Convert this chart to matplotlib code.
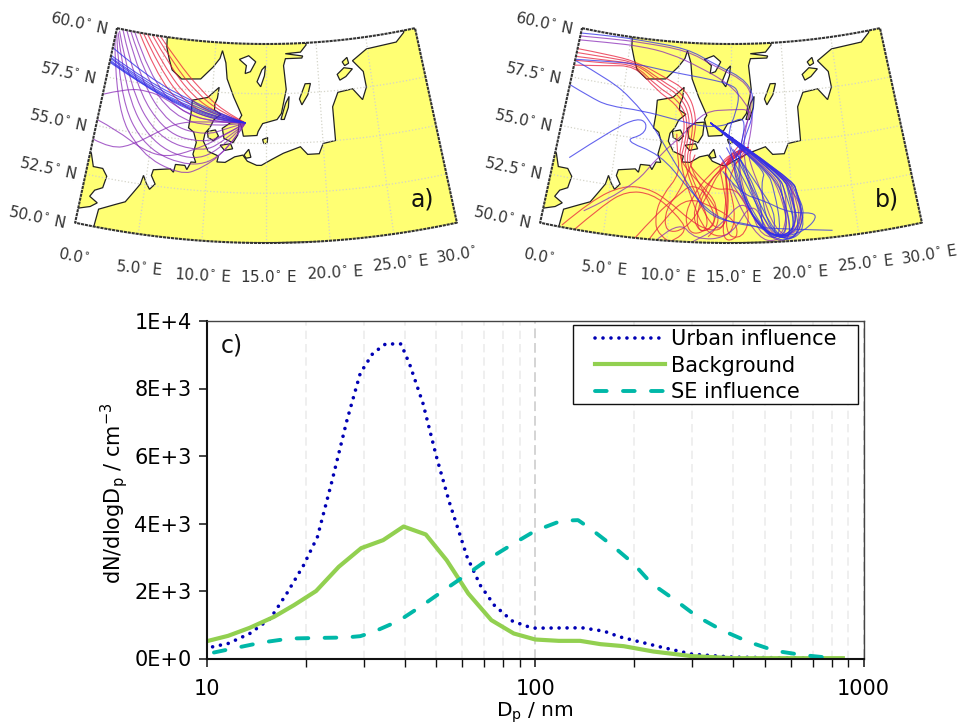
import numpy as np
import matplotlib
matplotlib.use("Agg")
import matplotlib.pyplot as plt
from matplotlib.path import Path
from matplotlib.patches import PathPatch, Polygon, Rectangle
from matplotlib.ticker import FixedLocator, NullFormatter, FuncFormatter

plt.rcParams['font.family'] = ['DejaVu Sans']
plt.rcParams['mathtext.default'] = 'regular'

# ---------- size distributions ----------
urban_d = [10.4, 11.6, 13.5, 15.6, 17.5, 19.7, 21.7, 24, 26.7, 29.3, 32, 35, 39, 41.5, 45.5, 50, 54.7, 62, 68, 75, 85, 94, 100, 120, 139, 162, 181, 240, 300, 400, 700]
urban_v = [346, 445, 740, 1186, 1927, 2767, 3606, 5236, 7064, 8450, 9040, 9320, 9320, 8700, 7557, 5980, 4640, 3010, 2170, 1580, 1115, 958, 900, 905, 909, 810, 640, 345, 130, 40, 10]
back_d = [10, 11.6, 13.5, 16, 18.4, 21.5, 25.2, 29.5, 34.4, 39.7, 46.4, 53.7, 62.5, 73.5, 86, 100, 118, 137, 158, 186, 229, 300, 400, 865]
back_v = [514, 672, 910, 1235, 1580, 2000, 2717, 3270, 3507, 3910, 3675, 2914, 1926, 1136, 741, 563, 523, 523, 425, 365, 207, 70, 10, 10]
se_d = [10.5, 12, 14.7, 17.9, 22.6, 26.4, 29.3, 32, 38.4, 45.4, 53.1, 62.5, 73, 86, 100, 120, 135, 147, 171, 199, 226, 267, 310, 370, 446, 538, 657, 790]
se_v = [178, 296, 474, 593, 612, 622, 662, 780, 1116, 1580, 2045, 2519, 2983, 3408, 3784, 4080, 4100, 3853, 3359, 2816, 2223, 1729, 1255, 840, 494, 227, 99, 20]
series_names = ['Urban influence', 'Background', 'SE influence']
y_ticks = [0, 2000, 4000, 6000, 8000, 10000]
y_tick_labels = ['0E+0', '2E+3', '4E+3', '6E+3', '8E+3', '1E+4']
x_ticks = [10, 100, 1000]

# ---------- map data (lon, lat) ----------
STATION = (13.15, 56.02)
coast_continent = [(1.4, 49), (1.5, 50.1), (1.6, 50.9), (2.9, 51.3), (3.6, 51.5), (4.1, 52.0), (4.6, 52.5), (4.75, 52.95), (5.05, 52.6), (5.4, 52.3), (5.8, 52.6), (5.4, 53.0), (5.5, 53.3), (6.9, 53.45), (7.2, 53.3), (7.3, 53.7), (8.1, 53.7), (8.3, 53.5), (8.6, 53.9), (9.0, 53.9), (8.7, 54.3), (8.9, 54.9), (8.6, 55.4), (8.1, 55.6), (8.2, 56.3), (8.2, 57.0), (9.6, 57.2), (10.6, 57.75), (10.5, 57.2), (10.3, 56.9), (10.3, 56.6), (10.9, 56.4), (10.3, 56.1), (10.0, 55.7), (9.6, 55.4), (9.5, 55.0), (10.0, 54.5), (10.9, 54.3), (10.8, 54.0), (11.5, 54.0), (12.3, 54.3), (13.0, 54.4), (13.4, 54.1), (14.2, 53.9), (14.6, 53.9), (15.5, 54.2), (16.5, 54.5), (18.0, 54.8), (18.6, 54.4), (19.6, 54.4), (20, 54.9), (21.1, 55.0), (21.1, 56.7), (21.7, 57.4), (23.1, 57.5), (23.9, 56.9), (24.4, 57.5), (24.3, 58.3), (23.4, 58.9), (24.9, 59.4), (27.9, 59.5), (28.8, 59.9), (29, 60.5), (31, 60.5), (31, 49)]
coast_britain = [(-1, 53.8), (0.1, 53.6), (0.5, 52.95), (1.3, 52.95), (1.75, 52.6), (1.6, 52.0), (1.0, 51.8), (0.7, 51.45), (1.4, 51.2), (0.9, 50.95), (0, 50.75), (-1, 50.6)]
coast_scandinavia = [(5.0, 60.5), (5.1, 60), (5.2, 59.5), (5.6, 58.9), (6.0, 58.4), (7.0, 58.0), (8.8, 58.1), (9.9, 58.75), (10.5, 59.2), (10.7, 59.6), (11.1, 59.0), (11.3, 58.2), (12.0, 57.3), (12.8, 56.4), (12.6, 56.2), (12.9, 55.6), (13.0, 55.35), (14.2, 55.4), (14.3, 55.6), (14.7, 56.0), (16.0, 56.2), (16.4, 56.5), (16.9, 57.7), (16.7, 58.9), (16.9, 59.25), (18.5, 59.25), (18.6, 59.35), (16.9, 59.5), (18.4, 59.55), (19.0, 59.9), (18.6, 60.5)]
islands = [
    [(11.1, 55.7), (11.8, 56.0), (12.6, 56.05), (12.5, 55.4), (12.1, 55.0), (11.3, 55.2)],
    [(9.8, 55.5), (10.5, 55.6), (10.8, 55.3), (10.4, 55.05), (9.9, 55.2)],
    [(11.0, 54.85), (11.9, 54.95), (12.1, 54.7), (11.4, 54.6)],
    [(13.1, 54.4), (13.5, 54.7), (13.7, 54.3), (13.3, 54.25)],
    [(14.7, 55.2), (15.15, 55.3), (15.1, 55.0), (14.8, 55.0)],
    [(16.35, 56.2), (16.8, 57.0), (17.15, 57.35), (17.05, 56.8), (16.65, 56.2)],
    [(18.1, 57.2), (18.7, 57.95), (19.2, 57.95), (18.9, 57.4), (18.3, 56.9)],
    [(21.8, 58.3), (22.5, 58.6), (23.3, 58.5), (22.6, 58.15), (22.0, 58.0)],
    [(22.4, 58.9), (22.9, 59.1), (23.0, 58.8), (22.6, 58.7)],
]
lakes = [
    [(12.4, 59.2), (13.3, 59.4), (14.0, 59.1), (13.5, 58.6), (13.0, 58.5), (13.1, 58.9)],
    [(14.5, 57.85), (14.15, 58.1), (14.6, 58.7), (14.95, 58.9), (14.85, 58.4)],
]

S = STATION
traj_a_red = [
    [(4.4, 60), (6.5, 58.8), (8.8, 57.6), (11.0, 56.6), S],
    [(4.0, 60), (6.1, 58.7), (8.5, 57.4), (10.9, 56.5), S],
    [(3.6, 60), (5.7, 58.6), (8.2, 57.2), (10.7, 56.4), S],
    [(3.1, 60), (5.2, 58.5), (7.9, 57.0), (10.6, 56.3), S],
    [(2.7, 60), (4.8, 58.4), (7.6, 56.8), (10.5, 56.2), S],
    [(2.3, 60), (4.4, 58.2), (7.3, 56.6), (10.4, 56.1), S],
]
traj_a_purple = [
    [(1.8, 60), (3.9, 58.0), (7.0, 56.4), (10.3, 55.95), S],
    [(1.4, 60), (3.5, 57.9), (6.6, 56.1), (10.2, 55.7), S],
    [(1.0, 60), (3.1, 57.7), (6.4, 55.6), (9.7, 55.3), (11.5, 55.7), S],
    [(0.6, 60), (2.7, 57.4), (6.1, 55.2), (9.5, 54.9), (11.5, 55.4), S],
    [(0.3, 59.9), (2.3, 57.2), (5.5, 54.9), (9.5, 54.4), (11.6, 55.2), S],
    [(0.2, 59.8), (1.9, 57.0), (5.0, 54.6), (9.0, 53.9), (11.7, 55.0), S],
    [(0.1, 59.7), (1.5, 56.7), (4.5, 54.3), (8.7, 53.6), (11.5, 54.4), S],
    [(0.0, 59.5), (1.3, 56.2), (4.2, 54.0), (7.8, 53.2), (9.5, 53.6), (11.6, 54.6), S],
    [(0, 56.6), (2, 57.1), (4, 57.2), (5.9, 56.9), (7.85, 56.3), (10.2, 56.0), S],
    [(0, 55.3), (1.9, 54.97), (4.4, 54.2), (6.5, 54.0), (8.7, 54.5), (10.7, 55.1), S],
    [(0, 54.3), (1.7, 54.0), (3.5, 54.4), (5.4, 55.2), (7.3, 55.85), (10.2, 56.0), S],
]
traj_a_blue = [
    [(0, 59.0), (4, 57.8), (8.4, 56.9), (11.3, 56.35), S],
    [(0, 58.6), (4, 57.6), (8.5, 56.8), (11.3, 56.3), S],
    [(0, 58.5), (4, 57.5), (8.4, 56.7), (11.3, 56.25), S],
    [(0, 58.45), (4, 57.4), (8.3, 56.6), (11.2, 56.2), S],
    [(0, 58.35), (4, 57.35), (8.2, 56.55), (11.2, 56.15), S],
    [(0, 58.3), (4, 57.3), (8.2, 56.5), (11.1, 56.1), S],
    [(0, 58.25), (4, 57.3), (8.1, 56.45), (11.0, 56.05), S],
]

# Corners of the south-eastern bundle, from which lines head for the station
T1, T2, T3, T4, T5, T6 = (20.2, 53.06), (19.8, 53.2), (19.4, 53.35), (19.0, 53.45), (18.5, 53.6), (18.0, 53.7)
E = (16.5, 54.8)
traj_b_red = [
    [(0, 58.95), (3, 58.95), (5.9, 58.8), (8.6, 58.2), (10.9, 57.6), (11.9, 56.3), (11.7, 55), (11.3, 54), (12.8, 52.5), (14, 51), (12.5, 50.4), (11.8, 51.6), (13.5, 53.5), E],
    [(0, 58.75), (3, 58.8), (5.9, 58.75), (8.4, 58), (10.6, 57.4), (11.6, 56.3), (11.5, 55), (11.1, 54), (12.4, 52.4), (13.4, 50.7), (11.7, 50.3), (11.2, 51.7), (13.8, 54), E],
    [(0, 58.55), (3, 58.65), (5.9, 58.7), (8.2, 57.9), (10.3, 57.3), (11.3, 56.3), (11.2, 55), (10.9, 54.1), (12.1, 52.3), (13.8, 50.5), (14.8, 51.2), (14.4, 52.8), (13.8, 54.3), E],
    [(0, 58.35), (3, 58.5), (5.8, 58.65), (8, 57.7), (10.1, 57.1), (11.1, 56.2), (11.0, 55), (10.6, 54), (11.6, 52.4), (13, 50.4), (15, 50.3), (15.4, 51.6), (14.5, 53.5), E],
    [(0, 58.1), (2.8, 58.35), (5.8, 58.6), (8, 57.5), (9.9, 56.9), (10.9, 56.1), (10.7, 55), (10.5, 54.1), (12.5, 52.9), (14, 51.9), (13.5, 50.7), (12.3, 50.5), (12.3, 52), (14.2, 54), E],
    [(10.2, 55.4), (10.3, 54.6), (10.7, 53.4), (9.4, 52.3), (8.9, 51.3), (9.2, 50.2), (10.7, 49.8)],
    [(11.9, 54.4), (10.9, 52.6), (9.7, 51.6), (9.8, 50.4), (11.4, 50.6), (12.8, 52.0), (14.3, 54.0), E],
    [(1.7, 50.1), (3.7, 51.6), (6.1, 52.55), (8.1, 52.55), (9.8, 52.05), (11.7, 51.1), (13.2, 50.6), (14.5, 50.7), (14.9, 52.3), (14.2, 54.2), E],
    [(2.6, 49.9), (4.6, 51.4), (6.4, 52.3), (8.5, 52.3), (10.4, 51.5), (11.8, 50.4), (10, 49.9)],
    [(7.5, 50), (9.0, 51.3), (10.8, 52.4), (11.7, 52.9), (13, 52.5), (14.4, 51.0), (13.2, 50.3)],
    [(8.6, 50), (10.0, 51.4), (11.5, 52.2), (13.2, 51.9), (15.3, 51.2), (15.6, 50.2), (14.2, 50.1), (14.7, 52.5), (14.4, 54.5), E],
    [(11.6, 53.8), (13.2, 52.6), (15.5, 52.8), (16.6, 51.4), (15.9, 50.2), (14.5, 50.4), (14.8, 52.7), (14.3, 54.3), E],
    [(14.2, 53.9), (15.0, 54.4), (15.7, 54.9)],
    [(14.7, 53.9), (15.5, 54.4), (16.2, 54.8)],
    [(15.2, 53.9), (16.0, 54.3), (16.7, 54.7)],
]
traj_b_purple = [
    [(0, 59.6), (3, 59.75), (6, 59.8), (10.7, 59.6), (13.3, 58.9), (16.8, 58), (16.9, 56.6), (16, 55.5), (15.6, 53.6), (16.6, 51.6), (17.4, 50.3), (19, 50.2), (20.3, 50.8), (19.9, 52.3), T3, S],
    [(0, 59.4), (3, 59.55), (6, 59.6), (9, 59.4), (12, 58.8), (14.8, 58.0), (16.4, 57), (16.7, 56.5), (16.1, 55.3), (16.2, 53.6), (17.4, 51.5), (18.5, 50.1), (20.1, 50.4), (20.2, 52.0), T2, S],
    [(3.2, 51.0), (6.7, 52.4), (8.9, 54.3), (11, 55.5), (12.6, 56.6), (15, 56.7), (17, 56.7), (16.8, 55.6), (16.3, 54.5), (17.6, 52.4), (18.4, 50.7), (19.9, 50.0), (20.8, 51.0), (20.5, 52.2), T1, S],
    [(8.9, 49.8), (10.8, 51.1), (12.2, 50.1), (15.0, 50.3), (16.8, 52.2), (17.9, 50.4), (19.2, 50.3), (19.6, 52.2), T4, S],
    [(11.6, 49.9), (12.6, 50.2), (14.2, 50.9), (16.0, 52.2), (17.0, 51.0), (18.6, 49.95), (19.8, 50.2), (19.3, 52.3), T5, S],
    [(14.6, 53.5), (15.5, 52.0), (17.2, 50.2), (18.5, 50.0), (19.6, 50.6), (19.0, 52.6), T6, S],
    [(14.9, 54.3), (16.1, 52.1), (17.4, 50.6), (19.3, 50.1), (20.6, 50.9), (20.2, 52.4), T2, S],
    [(15.1, 53.0), (16.7, 51.3), (18.4, 50.2), (20.4, 50.4), (20.7, 51.8), (19.9, 52.6), T3, S],
]
traj_b_blue = [
    [(0, 59.75), (3, 59.9), (6, 59.9), (10.7, 59.7), (13.3, 59), (16.8, 58.1), (17.2, 56.6), (16.0, 55), (15.5, 53.5), (16.5, 51.5), (18, 50.3), (20, 50.3), (20.8, 51.5), (20.4, 52.4), T1, S],
    [(0, 58.4), (3, 58.6), (5.9, 58.7), (8.8, 58.5), (12, 58.3), (14.9, 58), (15.8, 57.6), (15.5, 56.6), (14.6, 55.4), (15.5, 53.4), (16.8, 51.0), (18.8, 50.1), (20.3, 50.8), (20.0, 52.3), T2, S],
    [(0, 57.1), (2, 56.7), (3.8, 56.4), (6.9, 56.4), (10, 56.1), (12.6, 55.8), (14.6, 55.9), (16.3, 56.4), (16, 55.0), (15, 53.7), (16.5, 51.5), (18.5, 50.1), (20.1, 50.4), (19.8, 52.3), T3, S],
    [(0, 58.35), (3.6, 57.7), (5.9, 56.9), (7.9, 55.8), (9.4, 54.6), (11.3, 53.0), (13.3, 51.2), (17, 50.9), (18.7, 50.2), (20.2, 50.6), (19.5, 52.4), T4, S],
    [(1.25, 53.5), (4.6, 55.3), (6.6, 56), (7.5, 55.8), (7.3, 55.2), (5.6, 54.8), (8.9, 54.3), (11.3, 52.8), (13.6, 51.3), (16.5, 50.8), (19.5, 50.6), (23, 50.35)],
    [(14.3, 53.6), (15.7, 52.5), (17.7, 52.1), (19.7, 51.4), (22.2, 51.3), (20.8, 50.4), (18.6, 50.2), (17.7, 51.4), (17.5, 53.0), T6, S],
    [(14.0, 54.4), (15.7, 52.9), (17.4, 50.8), (18.8, 49.95), (20.5, 50.3), (20.0, 52.2), T3, S],
    [(14.6, 54.8), (16.4, 52.8), (18.2, 50.4), (19.9, 50.0), (21.0, 51.3), (20.4, 52.4), T1, S],
    [(15.0, 54.8), (16.9, 52.6), (18.1, 50.9), (19.3, 49.95), (20.9, 50.5), (20.5, 52.2), T2, S],
    [(15.2, 54.7), (17.1, 53), (18.6, 51.5), (18.3, 50.3), (19.7, 50.1), (19.6, 51.6), T5, S],
    [(15.6, 54.4), (17.5, 52.3), (17.4, 50.5), (19, 50.2), (19.5, 50.9), (19.2, 52.4), T4, S],
    [(15.8, 54.2), (17.0, 52.0), (18.0, 50.1), (19.0, 50.4), (18.6, 52.6), T6, S],
]

deg = '$^{\\circ}$'
lat_labels = [f'60.0{deg} N', f'57.5{deg} N', f'55.0{deg} N', f'52.5{deg} N', f'50.0{deg} N']
lon_labels_a = [f'0.0{deg}', f'5.0{deg} E', f'10.0{deg} E', f'15.0{deg} E', f'20.0{deg} E', f'25.0{deg} E', f'30.0{deg}']
lon_labels_b = [f'0.0{deg}', f'5.0{deg} E', f'10.0{deg} E', f'15.0{deg} E', f'20.0{deg} E', f'25.0{deg} E', f'30.0{deg} E']

# ---------- map projection (equidistant conic, layout in pixels) ----------
def project(lon, lat):
    lon, lat = np.asarray(lon, float), np.asarray(lat, float)
    r = 907 - (lat - 50) * 19.9
    th = np.radians((lon - 15) * 0.81)
    return 266 + r * np.sin(th), -664 + r * np.cos(th)

def xy(points):
    p = np.array(points, float)
    x, y = project(p[:, 0], p[:, 1])
    return np.column_stack([x, y])

def smooth_path(points):
    p = xy(points)
    verts, codes = [p[0]], [Path.MOVETO]
    if len(p) == 2:
        return Path(p, [Path.MOVETO, Path.LINETO])
    for i in range(1, len(p) - 1):
        end = p[i + 1] if i == len(p) - 2 else (p[i] + p[i + 1]) / 2
        verts += [p[i], end]
        codes += [Path.CURVE3, Path.CURVE3]
    return Path(verts, codes)

LAND = '#ffff73'
fig = plt.figure(figsize=(9.59, 7.28), dpi=100)

def draw_map(left, width, groups, lon_labels, tag, last_x):
    ax = fig.add_axes([left / 959, 1 - 290 / 728, width / 959, 290 / 728])
    ax.set_xlim(0, width)
    ax.set_ylim(290, 0)
    ax.axis('off')
    grid = np.linspace(0, 30, 61)
    top = xy(np.column_stack([grid, np.full_like(grid, 60)]))
    bottom = xy(np.column_stack([grid, np.full_like(grid, 50)]))
    outline = np.vstack([top, bottom[::-1]])
    frame = Polygon(outline, closed=True, fc='white', ec='none', zorder=0)
    ax.add_patch(frame)
    for c in [coast_continent, coast_britain, coast_scandinavia]:
        ax.add_patch(Polygon(xy(c), closed=True, fc=LAND, ec='#222222', lw=0.9, zorder=1, clip_path=frame))
    for c in islands:
        ax.add_patch(Polygon(xy(c), closed=True, fc=LAND, ec='#222222', lw=0.9, zorder=1, clip_path=frame))
    for c in lakes:
        ax.add_patch(Polygon(xy(c), closed=True, fc='white', ec='#222222', lw=0.9, zorder=1.1, clip_path=frame))
    for lon in [5, 10, 15, 20, 25]:
        la = np.linspace(50, 60, 21)
        px, py = project(np.full_like(la, lon), la)
        ax.plot(px, py, ls=':', color='#d4d4c8', lw=0.9, zorder=1.5)
    for lat in [52.5, 55, 57.5]:
        px, py = project(grid, np.full_like(grid, lat))
        ax.plot(px, py, ls=':', color='#d4d4c8', lw=0.9, zorder=1.5)
    for trajs, col in groups:
        for t in trajs:
            ax.add_patch(PathPatch(smooth_path(t), fc='none', ec=col, lw=0.8, alpha=0.75, zorder=2, clip_path=frame))
    ax.plot(outline[:, 0].tolist() + [outline[0, 0]], outline[:, 1].tolist() + [outline[0, 1]],
            color='#333333', lw=1.5, ls=(0, (1.5, 0.4)), zorder=3)
    for s, (x, y) in zip(lat_labels, [(79, 23), (68, 73), (58, 120), (48, 168), (37, 217)]):
        ax.text(x, y, s, rotation=-12, ha='center', va='center', fontsize=11, color='#333333', clip_on=False)
    pos = [(74, 256, -11), (139, 268, -5), (203, 275, -3), (268, 277, 0), (335, 273, 3), (400, 263, 6), (last_x, 255, 9)]
    for s, (x, y, rot) in zip(lon_labels, pos):
        ax.text(x, y, s, rotation=rot, ha='center', va='center', fontsize=11, color='#333333', clip_on=False)
    ax.text(422, 200, tag, ha='center', va='center', fontsize=17, color='#111111')

draw_map(0, 480, [(traj_a_red, '#e8203c'), (traj_a_purple, '#8a2cb8'), (traj_a_blue, '#2a2ae8')], lon_labels_a, 'a)', 456)
draw_map(465, 494, [(traj_b_red, '#e8203c'), (traj_b_purple, '#8a2cb8'), (traj_b_blue, '#3030e8')], lon_labels_b, 'b)', 464)

# ---------- panel c ----------
ax = fig.add_axes([207 / 959, 1 - 658.5 / 728, 656.5 / 959, 337.5 / 728])
ax.set_xscale('log')
ax.set_xlim(10, 1000)
ax.set_ylim(0, 10000)
minor = [m * d for d in (10, 100) for m in range(2, 10)]
ax.xaxis.set_major_locator(FixedLocator(x_ticks))
ax.xaxis.set_minor_locator(FixedLocator(minor))
ax.xaxis.set_major_formatter(FuncFormatter(lambda v, p: f'{v:.0f}'))
ax.xaxis.set_minor_formatter(NullFormatter())
ax.set_yticks(y_ticks)
ax.set_yticklabels(y_tick_labels)
ax.grid(True, axis='x', which='major', color='#d4d4d4', lw=1.4, ls=(0, (5, 2.5)))
ax.grid(True, axis='x', which='minor', color='#ececec', lw=1.2, ls=(0, (5, 3)))
ax.set_axisbelow(True)
ax.tick_params(axis='y', which='major', labelsize=15, length=6, width=1.1, color='#111111', pad=5)
ax.tick_params(axis='x', which='major', labelsize=15, length=6, width=1.1, color='#111111', pad=9)
ax.tick_params(axis='x', which='minor', length=6, width=1.0, color='#111111')
for side in ('left', 'bottom'):
    ax.spines[side].set_linewidth(1.5)
    ax.spines[side].set_color('#111111')
for side in ('top', 'right'):
    ax.spines[side].set_linewidth(1.0)
    ax.spines[side].set_color('#444444')

ax.plot(urban_d, urban_v, color='#0000b4', lw=2.6, ls=(0, (0.01, 2.2)), dash_capstyle='round', label=series_names[0])
ax.plot(back_d, back_v, color='#92d050', lw=3.0, label=series_names[1])
ax.plot(se_d, se_v, color='#00b8a8', lw=2.8, ls=(0, (3.0, 4.2)), dash_capstyle='round', label=series_names[2])
ax.set_xlabel('D$_p$ / nm', fontsize=14.5)
ax.xaxis.set_label_coords(0.5, -0.125)
ax.set_ylabel('dN/dlogD$_p$ / cm$^{-3}$', fontsize=15)
ax.yaxis.set_label_coords(-0.118, 0.49)
ax.annotate('c)', xy=(25 / 656.5, 1 - 24 / 337.5), xycoords='axes fraction', ha='center', va='center', fontsize=17, color='#111111')

def ax_x(px):
    return (px - 207) / 656.5

def ax_y(py):
    return (658.5 - py) / 337.5

ax.add_patch(Rectangle((ax_x(573), ax_y(404)), 285 / 656.5, 79 / 337.5, transform=ax.transAxes,
                       fc='white', ec='#111111', lw=1.0, zorder=4))
leg = ax.legend(loc='upper left', bbox_to_anchor=(ax_x(595), ax_y(329)), bbox_transform=ax.transAxes,
                borderaxespad=0, fontsize=15, frameon=False, handlelength=3.35, borderpad=0,
                labelspacing=0.32, handletextpad=0.3)
leg.set_zorder(5)

fig.savefig('out.png', dpi=100)
